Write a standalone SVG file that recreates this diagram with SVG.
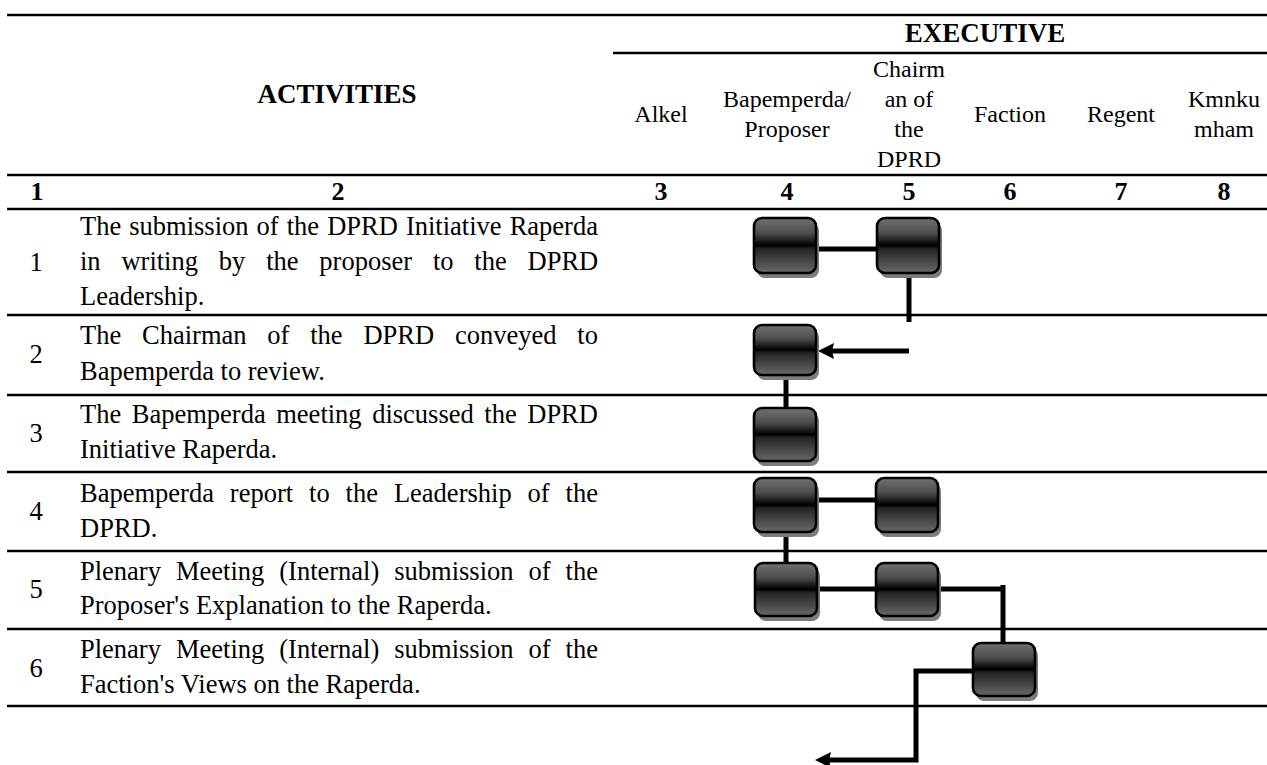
<svg xmlns="http://www.w3.org/2000/svg" width="1267" height="765" viewBox="0 0 1267 765">
<style>
.rule{stroke:#000;stroke-width:2.6;fill:none}
.hb{font-family:"Liberation Serif","Times New Roman",serif;font-weight:bold;font-size:27px;fill:#000}
.num{font-family:"Liberation Serif","Times New Roman",serif;font-weight:bold;font-size:26px;fill:#000;text-anchor:middle}
.h{font-family:"Liberation Serif","Times New Roman",serif;font-size:24px;fill:#000;text-anchor:middle}
.b{font-family:"Liberation Serif","Times New Roman",serif;font-size:26.5px;fill:#000}
.bn{font-family:"Liberation Serif","Times New Roman",serif;font-size:26.5px;fill:#000;text-anchor:middle}
.sh{fill:#7c7c7c}
.bx{fill:url(#grad);stroke:#000;stroke-width:2.6}
.con{stroke:#000;stroke-width:5;fill:none;stroke-linejoin:miter}
</style>
<defs>
<linearGradient id="grad" x1="0" y1="0" x2="0" y2="1">
<stop offset="0" stop-color="#727272"/>
<stop offset="0.28" stop-color="#4c4c4c"/>
<stop offset="0.46" stop-color="#0c0c0c"/>
<stop offset="0.5" stop-color="#000"/>
<stop offset="0.56" stop-color="#242424"/>
<stop offset="0.8" stop-color="#4a4a4a"/>
<stop offset="1" stop-color="#686868"/>
</linearGradient>
<marker id="ah" viewBox="0 0 16 16" refX="4" refY="8" markerWidth="16" markerHeight="16" markerUnits="userSpaceOnUse" orient="auto">
<path d="M0,0 L16,8 L0,16 L2,8 Z" fill="#000"/>
</marker>
</defs>
<g id="table">
<line class="rule" x1="7" y1="15" x2="1267" y2="15"/>
<line class="rule" x1="613" y1="53" x2="1267" y2="53"/>
<line class="rule" x1="7" y1="175" x2="1267" y2="175"/>
<line class="rule" x1="7" y1="209" x2="1267" y2="209"/>
<line class="rule" x1="7" y1="315" x2="1267" y2="315"/>
<line class="rule" x1="7" y1="395" x2="1267" y2="395"/>
<line class="rule" x1="7" y1="472" x2="1267" y2="472"/>
<line class="rule" x1="7" y1="551" x2="1267" y2="551"/>
<line class="rule" x1="7" y1="629" x2="1267" y2="629"/>
<line class="rule" x1="7" y1="706" x2="1267" y2="706"/>
<text class="hb" x="337" y="103" text-anchor="middle">ACTIVITIES</text>
<text class="hb" x="985" y="42" text-anchor="middle">EXECUTIVE</text>
<text class="h" x="661" y="122">Alkel</text>
<text class="h" x="787" y="107">Bapemperda/</text>
<text class="h" x="787" y="137">Proposer</text>
<text class="h" x="909" y="77">Chairm</text>
<text class="h" x="909" y="107">an of</text>
<text class="h" x="909" y="137">the</text>
<text class="h" x="909" y="167">DPRD</text>
<text class="h" x="1010" y="122">Faction</text>
<text class="h" x="1121" y="122">Regent</text>
<text class="h" x="1224" y="107">Kmnku</text>
<text class="h" x="1224" y="137">mham</text>
<text class="num" x="37" y="200">1</text>
<text class="num" x="338" y="200">2</text>
<text class="num" x="661" y="200">3</text>
<text class="num" x="787" y="200">4</text>
<text class="num" x="909" y="200">5</text>
<text class="num" x="1010" y="200">6</text>
<text class="num" x="1121" y="200">7</text>
<text class="num" x="1224" y="200">8</text>
<text class="bn" x="36" y="271">1</text>
<text class="b" x="80" y="235" word-spacing="1.44">The submission of the DPRD Initiative Raperda</text>
<text class="b" x="80" y="270" word-spacing="14.2">in writing by the proposer to the DPRD</text>
<text class="b" x="80" y="305">Leadership.</text>
<text class="bn" x="36" y="363">2</text>
<text class="b" x="80" y="344" word-spacing="14.2">The Chairman of the DPRD conveyed to</text>
<text class="b" x="80" y="380">Bapemperda to review.</text>
<text class="bn" x="36" y="442">3</text>
<text class="b" x="80" y="423" word-spacing="3.94">The Bapemperda meeting discussed the DPRD</text>
<text class="b" x="80" y="458">Initiative Raperda.</text>
<text class="bn" x="36" y="520">4</text>
<text class="b" x="80" y="502" word-spacing="9.31">Bapemperda report to the Leadership of the</text>
<text class="b" x="80" y="537">DPRD.</text>
<text class="bn" x="36" y="598">5</text>
<text class="b" x="80" y="580" word-spacing="8.36">Plenary Meeting (Internal) submission of the</text>
<text class="b" x="80" y="614">Proposer's Explanation to the Raperda.</text>
<text class="bn" x="36" y="677">6</text>
<text class="b" x="80" y="658" word-spacing="8.36">Plenary Meeting (Internal) submission of the</text>
<text class="b" x="80" y="693">Faction's Views on the Raperda.</text>
</g>
<g id="connectors">
<path class="con" d="M817,249 H877"/>
<path class="con" d="M909,273 V322"/>
<path class="con" d="M909,351 H830" marker-end="url(#ah)"/>
<path class="con" d="M786,375 V408"/>
<path class="con" d="M817,500 H876"/>
<path class="con" d="M786,532 V563"/>
<path class="con" d="M817,589 H876"/>
<path class="con" d="M938,589 H1003"/>
<path class="con" d="M1003,585 V643"/>
<path class="con" d="M973,671 H916 V760 H827" marker-end="url(#ah)"/>
</g>
<g id="n1"><rect class="sh" x="757" y="223" width="62" height="55" rx="8"/><rect class="bx" x="754" y="218" width="62" height="55" rx="8"/></g>
<g id="n2"><rect class="sh" x="880" y="223" width="62" height="55" rx="8"/><rect class="bx" x="877" y="218" width="62" height="55" rx="8"/></g>
<g id="n3"><rect class="sh" x="757" y="330" width="62" height="50" rx="8"/><rect class="bx" x="754" y="325" width="62" height="50" rx="8"/></g>
<g id="n4"><rect class="sh" x="757" y="413" width="62" height="53" rx="8"/><rect class="bx" x="754" y="408" width="62" height="53" rx="8"/></g>
<g id="n5"><rect class="sh" x="757" y="483" width="62" height="54" rx="8"/><rect class="bx" x="754" y="478" width="62" height="54" rx="8"/></g>
<g id="n6"><rect class="sh" x="879" y="483" width="62" height="54" rx="8"/><rect class="bx" x="876" y="478" width="62" height="54" rx="8"/></g>
<g id="n7"><rect class="sh" x="758" y="568" width="62" height="53" rx="8"/><rect class="bx" x="755" y="563" width="62" height="53" rx="8"/></g>
<g id="n8"><rect class="sh" x="879" y="568" width="62" height="53" rx="8"/><rect class="bx" x="876" y="563" width="62" height="53" rx="8"/></g>
<g id="n9"><rect class="sh" x="976" y="648" width="62" height="53" rx="8"/><rect class="bx" x="973" y="643" width="62" height="53" rx="8"/></g>
</svg>
